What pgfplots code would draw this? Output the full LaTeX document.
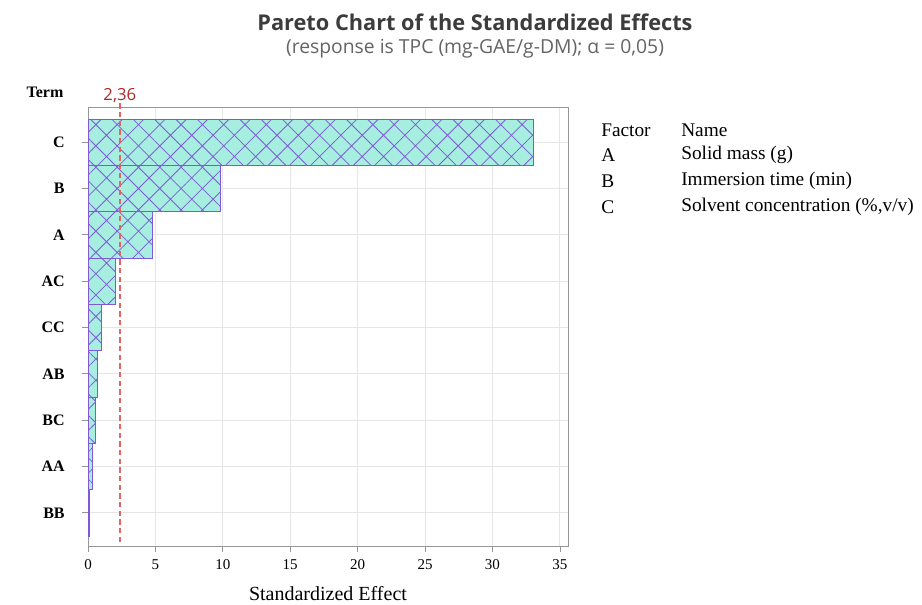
\documentclass[border=0pt]{standalone}
\usepackage{pgfplots}
\pgfplotsset{compat=1.18}
\usepackage{pgfplotstable}
\usepackage{fontspec}
\setmainfont{Liberation Serif}
\newfontfamily\headfont{Open Sans}
\usetikzlibrary{patterns.meta}

\definecolor{barfill}{RGB}{166,238,224}
\definecolor{hatchc}{RGB}{128,88,216}
\definecolor{refline}{RGB}{226,100,100}
\definecolor{reflabel}{RGB}{176,40,40}
\definecolor{framec}{RGB}{150,150,150}
\definecolor{gridc}{RGB}{230,230,230}
\definecolor{subc}{RGB}{100,100,100}
\definecolor{titlec}{RGB}{60,60,60}

% standardized effects, largest at the top
\pgfplotstableread{
pos effect
9 33.0
8 9.8
7 4.8
6 2.0
5 1.0
4 0.72
3 0.54
2 0.32
1 0.12
}\effects

\begin{document}
\begin{tikzpicture}[x=0.75pt,y=0.75pt]
\path[use as bounding box] (0,0) rectangle (922,604);

\begin{axis}[
  at={(66pt,43.5pt)}, anchor=south west,
  scale only axis, width=360pt, height=329.25pt,
  xmin=0, xmax=35.6, ymin=0.284, ymax=9.76,
  xtick={0,5,...,35},
  ytick={1,...,9},
  yticklabels={BB,AA,BC,AB,CC,AC,A,B,C},
  xtick pos=bottom, ytick pos=left,
  yticklabel style={font=\fontsize{12}{14}\selectfont\bfseries, xshift=-9.5pt},
  xticklabel style={font=\fontsize{11.25}{13}\selectfont, yshift=-2pt},
  /pgf/number format/assume math mode=true,
  tick align=outside,
  major tick length=4.5pt,
  tick style={framec, line width=0.6pt},
  axis line style={framec, line width=0.7pt},
  grid=major,
  major grid style={gridc, line width=0.7pt},
  xlabel={Standardized Effect},
  xlabel style={font=\fontsize{15}{17}\selectfont, at={(axis description cs:0.5,0)}, anchor=center, yshift=-36pt},
  clip=false,
]
\addplot[xbar, bar width=1, bar shift=0, fill=barfill, draw=hatchc, line width=0.6pt,
  postaction={pattern={Hatch[angle=45,distance=11.3pt,line width=0.6pt]}, pattern color=hatchc}]
  table[x=effect, y=pos] {\effects};
\addplot[refline, line width=1.1pt, dash pattern=on 4pt off 2.5pt] coordinates {(2.36,0.37) (2.36,9.84)};
\node[reflabel, font=\headfont\fontsize{12.5}{14}\selectfont, anchor=south, inner sep=1pt] at (axis cs:2.36,9.82) {2,36};
\end{axis}

% titles
\node[titlec, font=\headfont\bfseries\fontsize{16.3}{19}\selectfont] at (475,582) {Pareto Chart of the Standardized Effects};
\node[subc, font=\headfont\fontsize{14.5}{17}\selectfont] at (475,555) {(response is TPC (mg-GAE/g-DM); α = 0,05)};
\node[font=\fontsize{12}{14}\selectfont\bfseries] at (45,512) {Term};

% factor key
\begin{scope}[every node/.style={anchor=west, inner sep=0pt, font=\fontsize{14.5}{16}\selectfont}]
\node at (601,474) {Factor}; \node at (681,474) {Name};
\node at (601,449) {A};      \node at (681,449) {Solid mass (g)};
\node at (601,423) {B};      \node at (681,423) {Immersion time (min)};
\node at (601,397) {C};      \node at (681,397) {Solvent concentration (\%,v/v)};
\end{scope}
\end{tikzpicture}
\end{document}
